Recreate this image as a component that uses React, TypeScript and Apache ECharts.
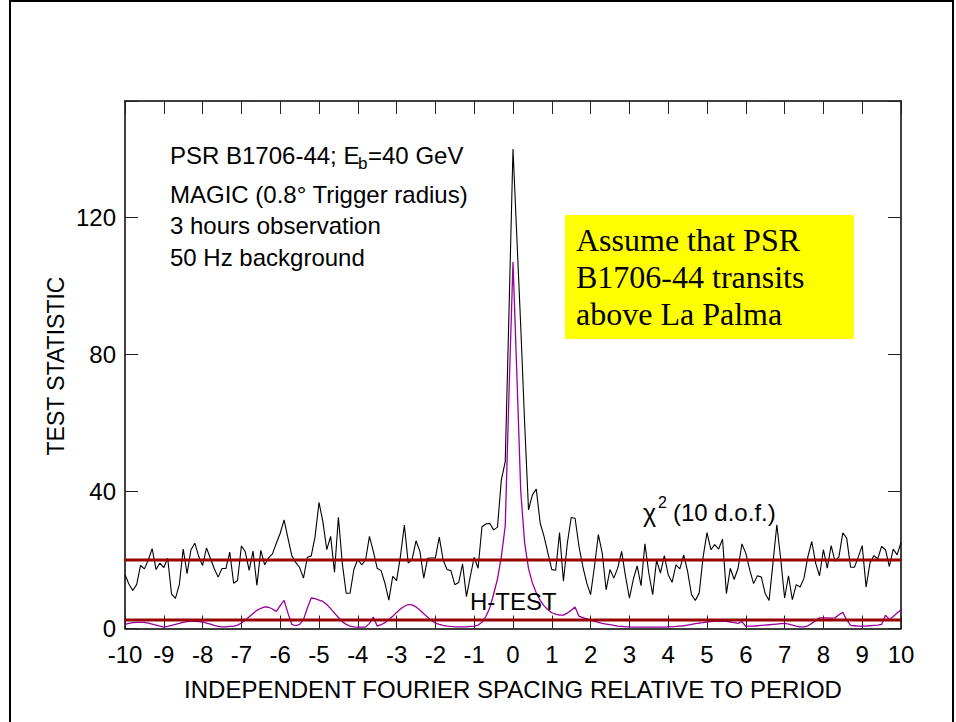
import React, { useEffect, useRef } from 'react';
import * as echarts from 'echarts';

// Sample grid: independent Fourier spacing from -10 to 10 in steps of 0.1
const X_START = -10;
const X_STEP = 0.1;

// chi-square (10 d.o.f.) test statistic, black curve
const chiSquare = [
  15.7, 13, 11.1, 12.8, 18.4, 17.4, 20, 23.3, 17.2, 19.1,
  17.8, 20.5, 10.0, 8.8, 12.8, 23.2, 16.0, 23.0, 24.9, 21.0,
  18.4, 23.5, 20.5, 17.5, 15.0, 17.5, 17.5, 22.3, 13.2, 14.0,
  24.1, 22.4, 17.0, 22.6, 12.6, 22.8, 18.6, 20.6, 21.8, 24.9,
  27.8, 31.7, 26.4, 21.2, 19.3, 17.8, 14.7, 20.8, 21.2, 26.9,
  36.8, 31.2, 23, 26.9, 16.4, 32.5, 19.1, 10.3, 10.3, 17.3,
  20.2, 18.6, 20, 26.9, 22.5, 17.6, 16.9, 13.2, 8.3, 15.2,
  14.0, 21.2, 30.2, 19.1, 20.2, 25.6, 22.5, 14.7, 20.5, 20.6,
  20.6, 26.7, 20, 17.2, 16.9, 12.8, 13.4, 18.9, 9.3, 15.2,
  20.8, 17.6, 29.7, 30.5, 30.7, 28.8, 29.6, 43.4, 48.7, 94,
  140, 114, 88, 60, 34.6, 39, 40.7, 30.8, 26.9, 22,
  17.2, 17, 28, 13.8, 24.9, 32.4, 32.2, 24, 18.1, 13.3,
  9.9, 18.1, 27.4, 22, 11.3, 17.2, 14.7, 17.7, 22.5, 15.2,
  8.9, 14.3, 18.3, 12.5, 24.7, 16.2, 9.9, 19.9, 16.2, 21.3,
  15.7, 13.5, 18.6, 17.4, 21.5, 16.7, 9.9, 8.2, 10.4, 20.9,
  28, 23, 24.5, 23.2, 26.1, 10.2, 17.6, 14.3, 17.6, 24.7,
  22, 17.2, 13.1, 15.4, 15, 10.2, 8.2, 19.1, 30.3, 20.3,
  8.9, 15.4, 8.4, 12.8, 12.1, 14.7, 21, 25.4, 19.1, 15.4,
  23, 17.6, 24.2, 19.6, 20.9, 27.9, 26.4, 17.9, 17.9, 20.9,
  24.2, 12.1, 19.1, 21.3, 20.3, 24, 23, 18.1, 23.2, 21.5,
  25.1,
];

// H-test statistic, purple curve
const hTest = [
  1.2, 1.5, 1.7, 1.8, 1.8, 1.8, 1.6, 1.3, 1.0, 0.7,
  0.4, 0.6, 0.9, 1.2, 1.5, 1.8, 2.0, 2.1, 2.1, 2.0,
  1.9, 1.6, 1.3, 0.9, 0.6, 0.5, 0.5, 0.6, 0.7, 1.0,
  1.6, 2.4, 3.4, 4.4, 5.3, 5.9, 6.3, 6.2, 5.7, 5.0,
  6.7, 8.2, 4.5, 1.2, 0.8, 1.2, 2.6, 6.0, 8.9, 8.7,
  8.3, 7.9, 7.0, 5.8, 4.5, 3.2, 2.0, 1.2, 0.7, 0.5,
  0.4, 0.4, 0.4, 1.5, 3.3, 0.7, 1.1, 1.7, 2.6, 3.6,
  4.7, 5.7, 6.5, 7.0, 6.9, 6.3, 5.4, 4.3, 3.3, 2.3,
  1.6, 1.2, 0.9, 0.7, 0.6, 0.5, 0.5, 0.5, 0.5, 0.6,
  0.7, 1.0, 1.8, 3.5, 6.0, 10, 14.5, 21, 30, 70,
  107, 74, 40, 25, 17.5, 13.3, 10.4, 8.2, 6.6, 5.5,
  4.6, 4.2, 3.9, 3.9, 4.5, 5.3, 6.3, 3.6, 3.2, 2.8,
  2.4, 2.1, 1.8, 1.5, 1.3, 1.1, 0.9, 0.7, 0.6, 0.5,
  0.5, 0.4, 0.4, 0.4, 0.4, 0.4, 0.4, 0.4, 0.4, 0.4,
  0.5, 0.5, 0.6, 0.7, 0.8, 1.0, 1.2, 1.4, 1.6, 1.7,
  1.9, 2.0, 2.1, 2.1, 2.1, 2.1, 1.9, 1.7, 1.5, 2.0,
  0.6, 0.7, 0.7, 0.8, 0.9, 1.0, 1.1, 1.2, 1.3, 1.4,
  1.5, 1.3, 1.0, 0.7, 0.5, 0.5, 0.8, 1.5, 2.3, 3.1,
  3.1, 3.1, 3.0, 3.1, 4.0, 4.7, 2.5, 0.9, 0.8, 0.7,
  0.7, 0.7, 0.8, 0.9, 1.0, 1.2, 3.9, 2.6, 3.5, 4.5,
  5.5,
];

// Significance thresholds (horizontal red lines)
const chi2Threshold = 20;
const hTestThreshold = 2.5;

const xRange = [-10, 10];
const yRange = [0, 154];
const yTickStep = 40;

const infoLines = ['MAGIC (0.8\u00b0 Trigger radius)', '3 hours observation', '50 Hz background'];
const boxLines = ['Assume that PSR', 'B1706-44 transits', 'above La Palma'];

const SANS = "'Liberation Sans', Arial, Helvetica, sans-serif";
const SERIF = "'Liberation Serif', 'Times New Roman', serif";

const toPairs = (vals: number[]) =>
  vals.map((v, i) => [Math.round((X_START + i * X_STEP) * 10) / 10, v]);

export default function App() {
  const ref = useRef<HTMLDivElement>(null);

  useEffect(() => {
    if (!ref.current) return;
    const chart = echarts.init(ref.current, undefined, { renderer: 'svg' });

    const axisLine = { show: true, onZero: false, lineStyle: { color: '#000', width: 1.5 } };
    const axisTick = { show: true, inside: true, length: 13, lineStyle: { color: '#222', width: 1 } };

    const txt = (text: string, x: number, y: number, size: number, extra: any = {}) => ({
      type: 'text',
      x,
      y,
      silent: true,
      z: 100,
      style: {
        text,
        fontSize: size,
        fontFamily: SANS,
        fill: '#000',
        align: 'left',
        verticalAlign: 'middle',
        ...extra,
      },
    });

    const graphics: any[] = [
      {
        type: 'rect',
        silent: true,
        z: 100,
        shape: { x: 10, y: 1, width: 943, height: 800 },
        style: { fill: 'none', stroke: '#000', lineWidth: 2 },
      },
      // top-left annotation
      txt('PSR B1706-44; E', 170, 155, 24),
      txt('b', 358, 163, 17),
      txt('=40 GeV', 368, 155, 24),
      ...infoLines.map((t, i) => txt(t, 170, 194 + i * 31.5, 24)),
      // yellow box
      {
        type: 'rect',
        silent: true,
        z: 99,
        shape: { x: 565, y: 215, width: 289, height: 124 },
        style: { fill: '#ffff00' },
      },
      ...boxLines.map((t, i) => txt(t, 576, 240 + i * 37, 32, { fontFamily: SERIF })),
      // chi^2 label
      txt('\u03c7', 643, 513, 25),
      txt('2', 658, 502, 16),
      txt('(10 d.o.f.)', 673, 512, 24),
      // H-TEST label
      txt('H-TEST', 470, 601, 24),
      // y-axis title
      {
        type: 'text',
        x: 56,
        y: 366,
        rotation: Math.PI / 2,
        silent: true,
        z: 100,
        style: {
          text: 'TEST STATISTIC',
          fontSize: 23,
          fontFamily: SANS,
          fill: '#000',
          align: 'center',
          verticalAlign: 'middle',
        },
      },
    ];

    const option: any = {
      animation: false,
      backgroundColor: '#fff',
      grid: { left: 125, right: 55, top: 101, bottom: 93.5, containLabel: false },
      xAxis: [
        {
          type: 'value',
          min: xRange[0],
          max: xRange[1],
          interval: 1,
          position: 'bottom',
          axisLine,
          axisTick,
          splitLine: { show: false },
          axisLabel: { fontSize: 24, color: '#000', margin: 14, fontFamily: SANS },
          name: 'INDEPENDENT FOURIER SPACING RELATIVE TO PERIOD',
          nameLocation: 'middle',
          nameGap: 49,
          nameTextStyle: { fontSize: 24, color: '#000', fontFamily: SANS },
        },
        {
          type: 'value',
          min: xRange[0],
          max: xRange[1],
          interval: 1,
          position: 'top',
          axisLine,
          axisTick,
          splitLine: { show: false },
          axisLabel: { show: false },
        },
      ],
      yAxis: [
        {
          type: 'value',
          min: yRange[0],
          max: yRange[1],
          interval: yTickStep,
          position: 'left',
          axisLine,
          axisTick,
          splitLine: { show: false },
          axisLabel: {
            fontSize: 24,
            color: '#000',
            margin: 9,
            fontFamily: SANS,
            padding: [5, 0, 0, 0],
            formatter: (v: number) => (v % yTickStep === 0 ? String(v) : ''),
          },
        },
        {
          type: 'value',
          min: yRange[0],
          max: yRange[1],
          interval: yTickStep,
          position: 'right',
          axisLine,
          axisTick,
          splitLine: { show: false },
          axisLabel: { show: false },
        },
      ],
      series: [
        {
          type: 'line',
          name: 'chi2',
          data: toPairs(chiSquare),
          symbol: 'none',
          lineStyle: { color: '#000', width: 1.1 },
          z: 2,
          silent: true,
        },
        {
          type: 'line',
          name: 'htest',
          data: toPairs(hTest),
          symbol: 'none',
          lineStyle: { color: '#990099', width: 1.3 },
          z: 3,
          silent: true,
        },
        {
          type: 'line',
          name: 'chi2 threshold',
          data: [[xRange[0], chi2Threshold], [xRange[1], chi2Threshold]],
          symbol: 'none',
          lineStyle: { color: '#990000', width: 3 },
          z: 4,
          silent: true,
        },
        {
          type: 'line',
          name: 'htest threshold',
          data: [[xRange[0], hTestThreshold], [xRange[1], hTestThreshold]],
          symbol: 'none',
          lineStyle: { color: '#990000', width: 3 },
          z: 4,
          silent: true,
        },
      ],
      graphic: graphics,
    };

    chart.setOption(option);
    return () => chart.dispose();
  }, []);

  return (
    <div
      ref={ref}
      style={{ position: 'absolute', left: 0, top: 0, width: 956, height: 722, background: '#fff' }}
    />
  );
}
